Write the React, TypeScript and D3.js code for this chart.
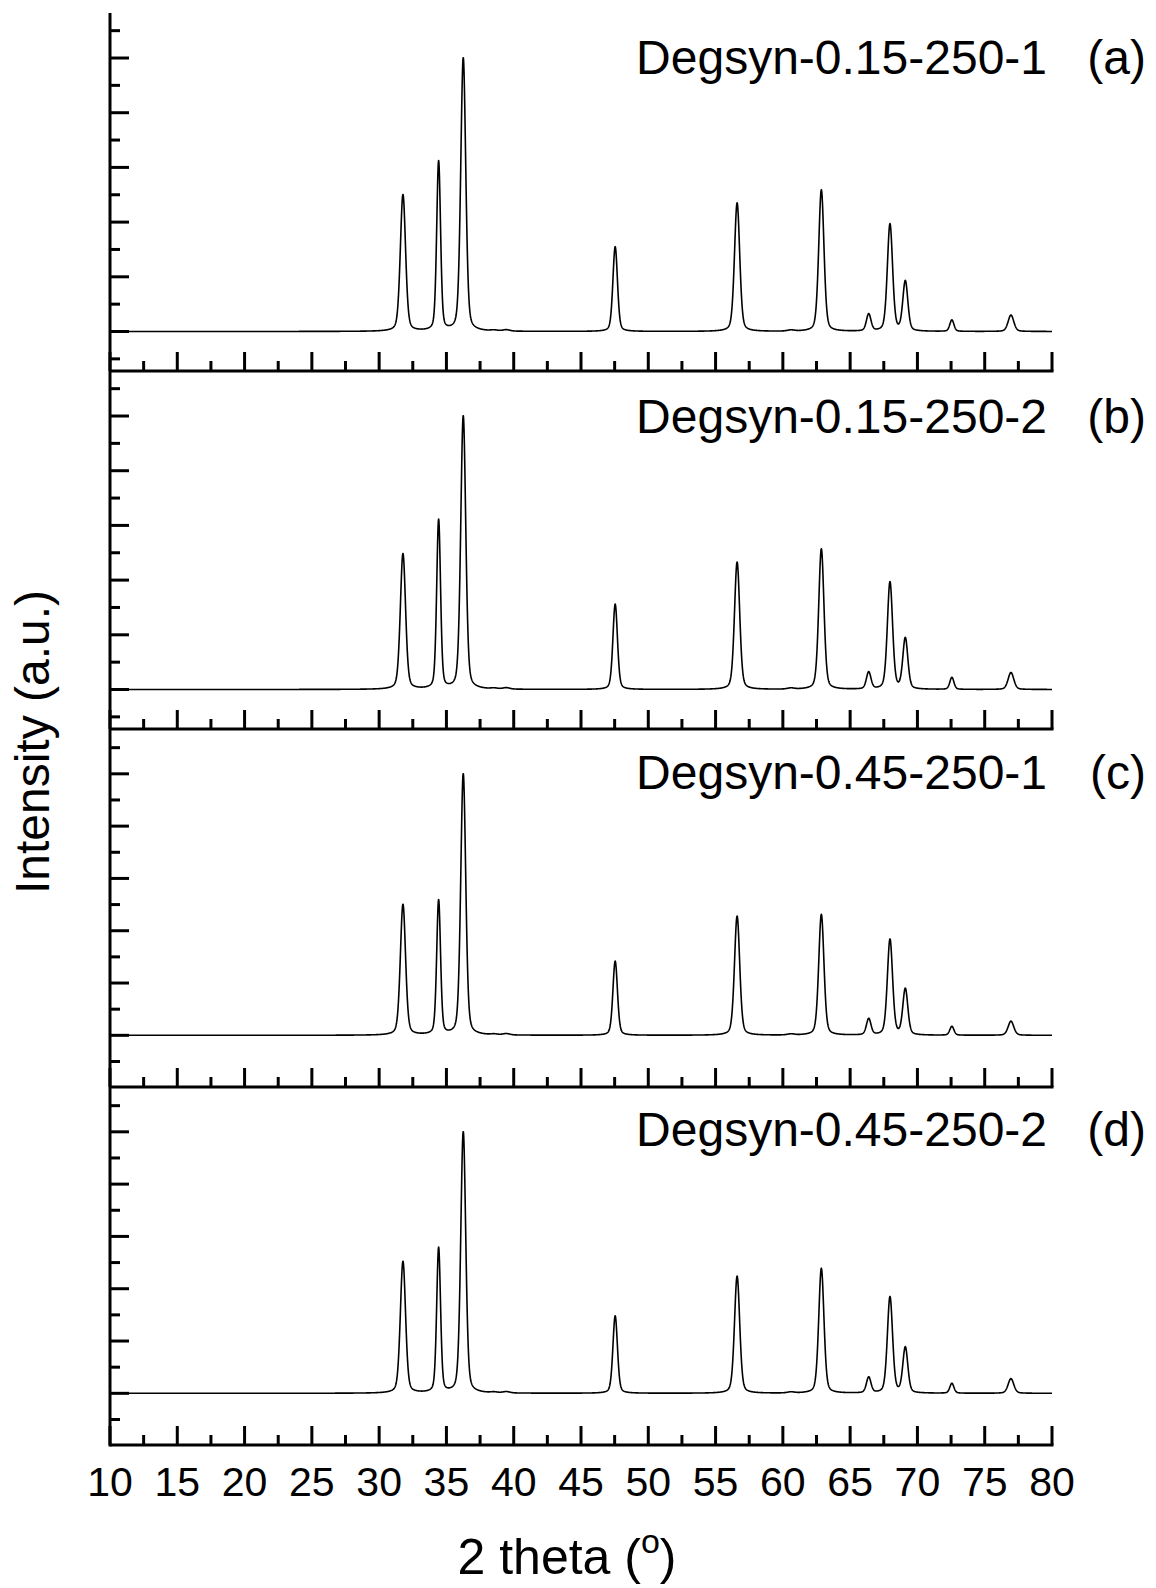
import React, { useMemo } from "react";
import * as d3 from "d3";

// Sample names and panel tags, top to bottom
const sampleNames = [
  "Degsyn-0.15-250-1",
  "Degsyn-0.15-250-2",
  "Degsyn-0.45-250-1",
  "Degsyn-0.45-250-2",
];
const panelTags = ["(a)", "(b)", "(c)", "(d)"];

// Reflection positions (2θ, degrees) and their full widths at half maximum
const peakCenters = [31.77, 34.42, 36.25, 47.54, 56.6, 62.86, 66.38, 67.96, 69.1, 72.56, 76.95, 38.55, 39.45, 60.6];
const peakFwhm = [0.46, 0.34, 0.44, 0.4, 0.46, 0.46, 0.4, 0.46, 0.44, 0.36, 0.5, 0.6, 0.6, 0.6];

// Peak intensities per sample (normalised, strongest reflection = 5)
const intensityA = [2.5, 3.1, 5.0, 1.55, 2.35, 2.59, 0.31, 1.96, 0.91, 0.21, 0.3, 0.015, 0.025, 0.02];
const intensityB = [2.48, 3.09, 5.0, 1.56, 2.33, 2.57, 0.31, 1.96, 0.93, 0.22, 0.31, 0.015, 0.025, 0.02];
const intensityC = [2.5, 2.57, 5.0, 1.42, 2.28, 2.31, 0.31, 1.83, 0.88, 0.17, 0.27, 0.015, 0.025, 0.02];
const intensityD = [2.52, 2.77, 5.0, 1.48, 2.24, 2.39, 0.3, 1.84, 0.87, 0.19, 0.28, 0.015, 0.025, 0.02];
const intensities = [intensityA, intensityB, intensityC, intensityD];

// Visible intensity range of each panel
const yRanges: [number, number][] = [
  [-0.722, 5.823],
  [-0.722, 5.823],
  [-0.988, 5.857],
  [-0.988, 5.857],
];

// 2θ axis ticks
const xMajorTicks = [10, 15, 20, 25, 30, 35, 40, 45, 50, 55, 60, 65, 70, 75, 80];
const xMinorTicks = [12.5, 17.5, 22.5, 27.5, 32.5, 37.5, 42.5, 47.5, 52.5, 57.5, 62.5, 67.5, 72.5, 77.5];

const X_MIN = 10;
const X_MAX = 80;
const STEP = 0.02;

const LEFT = 110;
const RIGHT = 1052;
const TOP = 13;
const PANEL_H = 358;
const MAJOR_LEN = 19;
const MINOR_LEN = 10;
const FONT = "Liberation Sans, Arial, Helvetica, sans-serif";
const ETA = 0.3;

function profile(x: number, heights: number[]) {
  let y = 0;
  for (let i = 0; i < peakCenters.length; i++) {
    const hw = peakFwhm[i] / 2;
    const t = (x - peakCenters[i]) / hw;
    const lor = 1 / (1 + t * t);
    const gau = Math.exp(-Math.LN2 * t * t);
    y += heights[i] * (ETA * lor + (1 - ETA) * gau);
  }
  return y;
}

export default function App() {
  const x = d3.scaleLinear().domain([X_MIN, X_MAX]).range([LEFT, RIGHT]);
  const grid = useMemo(() => d3.range(X_MIN, X_MAX + STEP / 2, STEP), []);

  const panels = intensities.map((h, i) => {
    const top = TOP + i * PANEL_H;
    const bottom = top + PANEL_H;
    const y = d3.scaleLinear().domain(yRanges[i]).range([bottom, top]);
    const pts: [number, number][] = grid.map((g) => [g, profile(g, h)]);
    const line = d3
      .line<[number, number]>()
      .x((d) => x(d[0]))
      .y((d) => y(d[1]))(pts);
    const [lo, hi] = yRanges[i];
    const yMajor = d3.range(Math.ceil(lo), Math.floor(hi) + 1e-9, 1);
    const yMinor = d3
      .range(Math.ceil(lo * 2) / 2, hi + 1e-9, 0.5)
      .filter((v) => Math.abs(v - Math.round(v)) > 1e-6);
    return { top, bottom, y, line, yMajor, yMinor };
  });

  const labelBaselines = [74, 433, 789, 1146];

  return (
    <svg
      width={1156}
      height={1588}
      style={{ position: "absolute", left: 0, top: 0, background: "#fff", fontFamily: FONT }}
    >
      <rect x={0} y={0} width={1156} height={1588} fill="#fff" />
      {panels.map((p, i) => (
        <g key={i}>
          <path d={p.line ?? ""} fill="none" stroke="#000" strokeWidth={1.6} strokeLinejoin="round" />
          {/* bottom axis of the panel */}
          <line x1={LEFT} x2={RIGHT + 1.5} y1={p.bottom} y2={p.bottom} stroke="#000" strokeWidth={3} />
          {xMajorTicks.map((t) => (
            <line key={"xM" + t} x1={x(t)} x2={x(t)} y1={p.bottom} y2={p.bottom - MAJOR_LEN} stroke="#000" strokeWidth={3} />
          ))}
          {xMinorTicks.map((t) => (
            <line key={"xm" + t} x1={x(t)} x2={x(t)} y1={p.bottom} y2={p.bottom - MINOR_LEN} stroke="#000" strokeWidth={3} />
          ))}
          {p.yMajor.map((t) => (
            <line key={"yM" + t} x1={LEFT} x2={LEFT + MAJOR_LEN} y1={p.y(t)} y2={p.y(t)} stroke="#000" strokeWidth={3} />
          ))}
          {p.yMinor.map((t) => (
            <line key={"ym" + t} x1={LEFT} x2={LEFT + MINOR_LEN} y1={p.y(t)} y2={p.y(t)} stroke="#000" strokeWidth={3} />
          ))}
          <text x={1047} y={labelBaselines[i]} fontSize={48} textAnchor="end" fill="#000">
            {sampleNames[i]}
          </text>
          <text x={1146} y={labelBaselines[i]} fontSize={48} textAnchor="end" fill="#000">
            {panelTags[i]}
          </text>
        </g>
      ))}
      {/* shared left axis */}
      <line x1={LEFT} x2={LEFT} y1={TOP} y2={TOP + 4 * PANEL_H + 1.5} stroke="#000" strokeWidth={3} />
      {xMajorTicks.map((t) => (
        <text key={"xl" + t} x={x(t)} y={1496} fontSize={41} textAnchor="middle" fill="#000">
          {t}
        </text>
      ))}
      <text x={567} y={1574} fontSize={50} textAnchor="middle" fill="#000">
        2 theta (<tspan fontSize={34} dy={-21}>o</tspan>
        <tspan dy={21}>)</tspan>
      </text>
      <text transform="translate(49,742) rotate(-90)" fontSize={48} textAnchor="middle" fill="#000">
        Intensity (a.u.)
      </text>
    </svg>
  );
}
